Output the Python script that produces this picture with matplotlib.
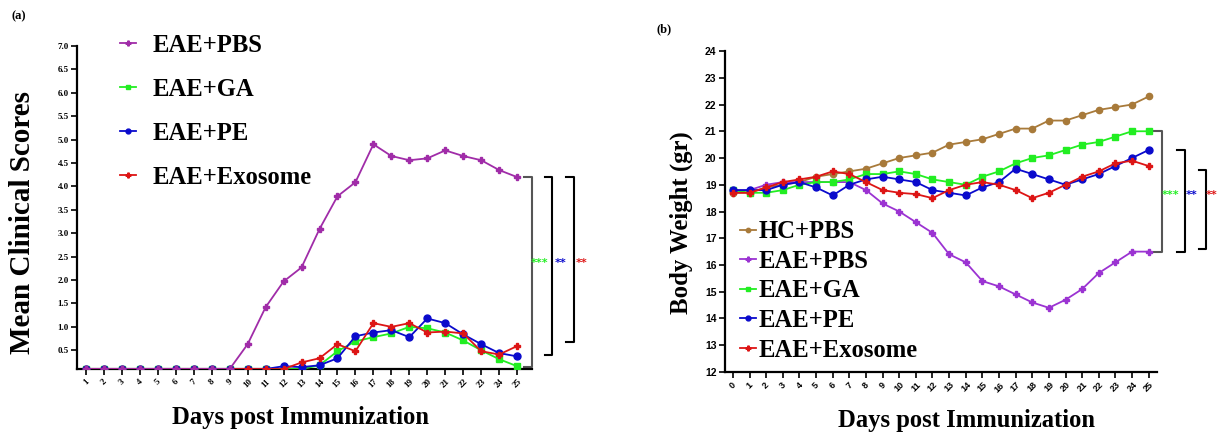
import matplotlib
matplotlib.use('Agg')
import matplotlib.pyplot as plt

serif = 'Liberation Serif'
sans = 'Liberation Sans'

# (a) mean clinical scores, days 1-25
days_a = list(range(1, 26))
score_pbs = [0.1, 0.1, 0.1, 0.1, 0.1, 0.1, 0.1, 0.1, 0.1, 0.63, 1.42, 1.97, 2.27, 3.09, 3.79,
             4.09, 4.9, 4.65, 4.56, 4.6, 4.77, 4.65, 4.56, 4.35, 4.2]
score_ga = [0.1, 0.1, 0.1, 0.1, 0.1, 0.1, 0.1, 0.1, 0.1, 0.1, 0.1, 0.1, 0.1, 0.18, 0.48,
            0.69, 0.78, 0.86, 1.0, 0.97, 0.88, 0.71, 0.5, 0.31, 0.16]
score_pe = [0.1, 0.1, 0.1, 0.1, 0.1, 0.1, 0.1, 0.1, 0.1, 0.1, 0.1, 0.16, 0.14, 0.18, 0.33,
            0.8, 0.88, 0.93, 0.78, 1.18, 1.08, 0.84, 0.63, 0.44, 0.37]
score_exo = [0.1, 0.1, 0.1, 0.1, 0.1, 0.1, 0.1, 0.1, 0.1, 0.1, 0.1, 0.1, 0.24, 0.33, 0.63,
             0.48, 1.08, 1.0, 1.08, 0.88, 0.9, 0.86, 0.48, 0.41, 0.59]

# (b) body weight, days 0-25
days_b = list(range(0, 26))
w_hc = [18.7, 18.7, 18.9, 19.0, 19.1, 19.3, 19.4, 19.5, 19.6, 19.8, 20.0, 20.1, 20.2, 20.5,
        20.6, 20.7, 20.9, 21.1, 21.1, 21.4, 21.4, 21.6, 21.8, 21.9, 22.0, 22.3]
w_pbs = [18.8, 18.8, 19.0, 19.1, 19.1, 19.1, 19.1, 19.1, 18.8, 18.3, 18.0, 17.6, 17.2, 16.4,
         16.1, 15.4, 15.2, 14.9, 14.6, 14.4, 14.7, 15.1, 15.7, 16.1, 16.5, 16.5]
w_ga = [18.8, 18.7, 18.7, 18.8, 19.0, 19.1, 19.1, 19.2, 19.4, 19.4, 19.5, 19.4, 19.2, 19.1,
        19.0, 19.3, 19.5, 19.8, 20.0, 20.1, 20.3, 20.5, 20.6, 20.8, 21.0, 21.0]
w_pe = [18.8, 18.8, 18.8, 19.0, 19.1, 18.9, 18.6, 19.0, 19.2, 19.3, 19.2, 19.1, 18.8, 18.7,
        18.6, 18.9, 19.1, 19.6, 19.4, 19.2, 19.0, 19.2, 19.4, 19.7, 20.0, 20.3]
w_exo = [18.7, 18.7, 18.9, 19.1, 19.2, 19.3, 19.5, 19.4, 19.1, 18.8, 18.7, 18.65, 18.5, 18.8,
         19.0, 19.1, 19.0, 18.8, 18.5, 18.7, 19.0, 19.3, 19.5, 19.8, 19.9, 19.7]

c_pbs_a = '#A02CA8'
c_pbs_b = '#9B33D2'
c_ga = '#22EE22'
c_pe = '#0A0ACC'
c_exo = '#DD1515'
c_hc = '#A87A3A'

fig = plt.figure(figsize=(12.18, 4.32), dpi=100)
ax1 = fig.add_axes([0.0632, 0.1458, 0.3736, 0.7477])
ax2 = fig.add_axes([0.5952, 0.1389, 0.3547, 0.7430])

for ax in (ax1, ax2):
    ax.spines['top'].set_visible(False)
    ax.spines['right'].set_visible(False)
    ax.spines['left'].set_linewidth(1.6)
    ax.spines['bottom'].set_linewidth(1.6)
    ax.tick_params(width=1.2, length=4, pad=2)

# ---- panel (a)
ax1.plot(days_a, score_ga, color=c_ga, marker='s', ms=5, lw=1.3, label='EAE+GA', zorder=3)
ax1.plot(days_a, score_pe, color=c_pe, marker='o', ms=5, lw=1.3, label='EAE+PE', zorder=4)
ax1.plot(days_a, score_exo, color=c_exo, marker='P', ms=5, lw=1.3, label='EAE+Exosome', zorder=5)
ax1.plot(days_a, score_pbs, color=c_pbs_a, marker='P', ms=5, lw=1.3, label='EAE+PBS', zorder=6)
ax1.set_xlim(0.5, 25.83)
ax1.set_ylim(0.1, 7.0)
ax1.set_xticks(days_a)
ax1.set_xticklabels([str(d) for d in days_a], rotation=45, fontsize=6.5,
                    fontfamily=serif, fontweight='bold')
ax1.set_yticks([0.5 + 0.5 * i for i in range(14)])
ax1.set_yticklabels(['%.1f' % (0.5 + 0.5 * i) for i in range(14)], fontsize=6.5,
                    fontfamily=serif, fontweight='bold')
ax1.set_ylabel('Mean Clinical Scores', fontsize=21, fontfamily=serif, fontweight='bold')
ax1.yaxis.set_label_coords(-0.09, 0.455)
ax1.set_xlabel('Days post Immunization', fontsize=17.7, fontfamily=serif, fontweight='bold')
ax1.xaxis.set_label_coords(0.492, -0.115)

h, l = ax1.get_legend_handles_labels()
order = [3, 0, 1, 2]
ax1.legend([h[i] for i in order], [l[i] for i in order], loc='upper left',
           bbox_to_anchor=(0.045, 1.107), frameon=False, handlelength=0.65, handletextpad=0.7,
           labelspacing=0.86, prop={'family': serif, 'weight': 'bold', 'size': 17.7},
           markerscale=0.7)

def bracket(ax, x0, x1, ytop, ybot, color):
    ax.plot([x0, x1, x1, x0], [ytop, ytop, ybot, ybot], color=color, lw=1.5, clip_on=False)

bracket(ax1, 25.39, 25.83, score_pbs[-1], 0.14, '#555555')
bracket(ax1, 26.56, 26.95, score_pbs[-1], 0.41, 'black')
bracket(ax1, 27.73, 28.17, score_pbs[-1], 0.67, 'black')
ax1.text(26.25, 2.36, '***', color=c_ga, fontsize=8, fontweight='bold', ha='center', va='center')
ax1.text(27.4, 2.36, '**', color=c_pe, fontsize=8, fontweight='bold', ha='center', va='center')
ax1.text(28.6, 2.36, '**', color=c_exo, fontsize=8, fontweight='bold', ha='center', va='center')

# ---- panel (b)
ax2.plot(days_b, w_hc, color=c_hc, marker='o', ms=4.5, lw=1.3, label='HC+PBS', zorder=3)
ax2.plot(days_b, w_pbs, color=c_pbs_b, marker='P', ms=5, lw=1.3, label='EAE+PBS', zorder=4)
ax2.plot(days_b, w_ga, color=c_ga, marker='s', ms=4.5, lw=1.3, label='EAE+GA', zorder=5)
ax2.plot(days_b, w_pe, color=c_pe, marker='o', ms=5, lw=1.3, label='EAE+PE', zorder=6)
ax2.plot(days_b, w_exo, color=c_exo, marker='P', ms=5, lw=1.3, label='EAE+Exosome', zorder=7)
ax2.set_xlim(-0.48, 25.5)
ax2.set_ylim(12, 24)
ax2.set_xticks(days_b)
ax2.set_xticklabels([str(d) for d in days_b], rotation=45, fontsize=6.5,
                    fontfamily=sans, fontweight='bold')
ax2.set_yticks(list(range(12, 25)))
ax2.set_yticklabels([str(v) for v in range(12, 25)], fontsize=7.5,
                    fontfamily=sans, fontweight='bold')
ax2.set_ylabel('Body Weight (gr)', fontsize=17.8, fontfamily=serif, fontweight='bold')
ax2.yaxis.set_label_coords(-0.074, 0.464)
ax2.set_xlabel('Days post Immunization', fontsize=17.7, fontfamily=serif, fontweight='bold')
ax2.xaxis.set_label_coords(0.56, -0.115)
ax2.legend(loc='lower left', bbox_to_anchor=(0.0, -0.014), frameon=False, handlelength=0.65,
           handletextpad=0.1, labelspacing=0.27, borderaxespad=0.2,
           prop={'family': serif, 'weight': 'bold', 'size': 17.7}, markerscale=0.7)

bracket(ax2, 25.34, 25.78, w_ga[-1], w_pbs[-1], '#555555')
bracket(ax2, 26.68, 27.16, w_pe[-1], w_pbs[-1], 'black')
bracket(ax2, 28.0, 28.43, 19.55, 16.6, 'black')
ax2.text(26.3, 18.6, '***', color=c_ga, fontsize=8, fontweight='bold', ha='center', va='center')
ax2.text(27.6, 18.6, '**', color=c_pe, fontsize=8, fontweight='bold', ha='center', va='center')
ax2.text(28.8, 18.6, '**', color=c_exo, fontsize=8, fontweight='bold', ha='center', va='center')

fig.text(12 / 1218, 1 - 16 / 432, '(a)', fontsize=9, fontfamily=serif, fontweight='bold',
         va='center')
fig.text(657 / 1218, 1 - 29 / 432, '(b)', fontsize=9, fontfamily=serif, fontweight='bold',
         va='center')

fig.savefig('out.png', dpi=100)
